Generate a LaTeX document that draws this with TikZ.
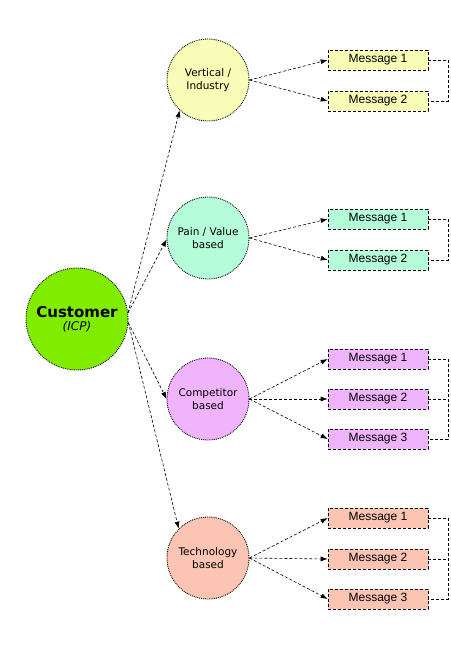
\documentclass[tikz,border=0pt]{standalone}
\usepackage{fontspec}
\setmainfont{DejaVu Sans}
\newfontfamily\msgfont{Liberation Sans}
\usetikzlibrary{arrows.meta}
\definecolor{custfill}{HTML}{80EC00}
\definecolor{vertfill}{HTML}{F7FCB6}
\definecolor{painfill}{HTML}{B4FDD8}
\definecolor{compfill}{HTML}{F0B4FC}
\definecolor{techfill}{HTML}{FCC4B2}
\begin{document}
\begin{tikzpicture}[x=1pt, y=-1pt,
  topic/.style={circle, draw, densely dotted, line width=0.9pt, minimum size=82pt, inner sep=0pt, align=center, font=\fontsize{10.5}{12.5}\selectfont},
  msg/.style={draw, dash pattern=on 3pt off 2pt, line width=0.6pt, minimum width=100pt, minimum height=20pt, inner sep=0pt, font=\msgfont\fontsize{12}{13}\selectfont},
  link/.style={-{Latex[length=7pt, width=5pt]}, dash pattern=on 3pt off 2pt, line width=0.6pt},
  bracket/.style={dash pattern=on 3pt off 2pt, line width=0.6pt}]
\useasboundingbox (0,0) rectangle (450,650) ;
% customer and the four kinds of message
\node[topic, fill=custfill, minimum size=102pt] (cust) at (77,319) {{\fontsize{15}{17}\selectfont\bfseries Customer}\\[1pt]{\fontsize{12}{14}\selectfont\itshape (ICP)}} ;
\node[topic, fill=vertfill] (vert) at (208,80) {Vertical /\\Industry} ;
\node[topic, fill=painfill] (pain) at (208,238) {Pain / Value\\based} ;
\node[topic, fill=compfill] (comp) at (208,399) {Competitor\\based} ;
\node[topic, fill=techfill] (tech) at (208,558) {Technology\\based} ;
\draw[link] (cust.7) -- (vert.227) ;
\draw[link] (cust.7) -- (pain.182) ;
\draw[link] (cust.-4) -- (comp.west) ;
\draw[link] (cust.-4) -- (tech.135) ;
% messages
\node[msg, fill=vertfill] (vert1) at (378,60) {Message 1} ;
\node[msg, fill=vertfill] (vert2) at (378,101) {Message 2} ;
\node[msg, fill=painfill] (pain1) at (378,219) {Message 1} ;
\node[msg, fill=painfill] (pain2) at (378,260) {Message 2} ;
\node[msg, fill=compfill] (comp1) at (378,359) {Message 1} ;
\node[msg, fill=compfill] (comp2) at (378,399) {Message 2} ;
\node[msg, fill=compfill] (comp3) at (378,439) {Message 3} ;
\node[msg, fill=techfill] (tech1) at (378,518) {Message 1} ;
\node[msg, fill=techfill] (tech2) at (378,559) {Message 2} ;
\node[msg, fill=techfill] (tech3) at (378,599) {Message 3} ;
\foreach \m in {1,2} \draw[link] (vert.east) -- (vert\m.west) ;
\foreach \m in {1,2} \draw[link] (pain.east) -- (pain\m.west) ;
\foreach \m in {1,2,3} \draw[link] (comp.east) -- (comp\m.west) ;
\foreach \m in {1,2,3} \draw[link] (tech.east) -- (tech\m.west) ;
% brackets on the right
\draw[bracket] (vert1.east) -- ++(20,0) |- (vert2.east) ;
\draw[bracket] (pain1.east) -- ++(20,0) |- (pain2.east) ;
\draw[bracket] (comp1.east) -- ++(20,0) |- (comp3.east) ;
\draw[bracket] (comp2.east) -- ++(20,0) ;
\draw[bracket] (tech1.east) -- ++(20,0) |- (tech3.east) ;
\draw[bracket] (tech2.east) -- ++(20,0) ;
\end{tikzpicture}
\end{document}
